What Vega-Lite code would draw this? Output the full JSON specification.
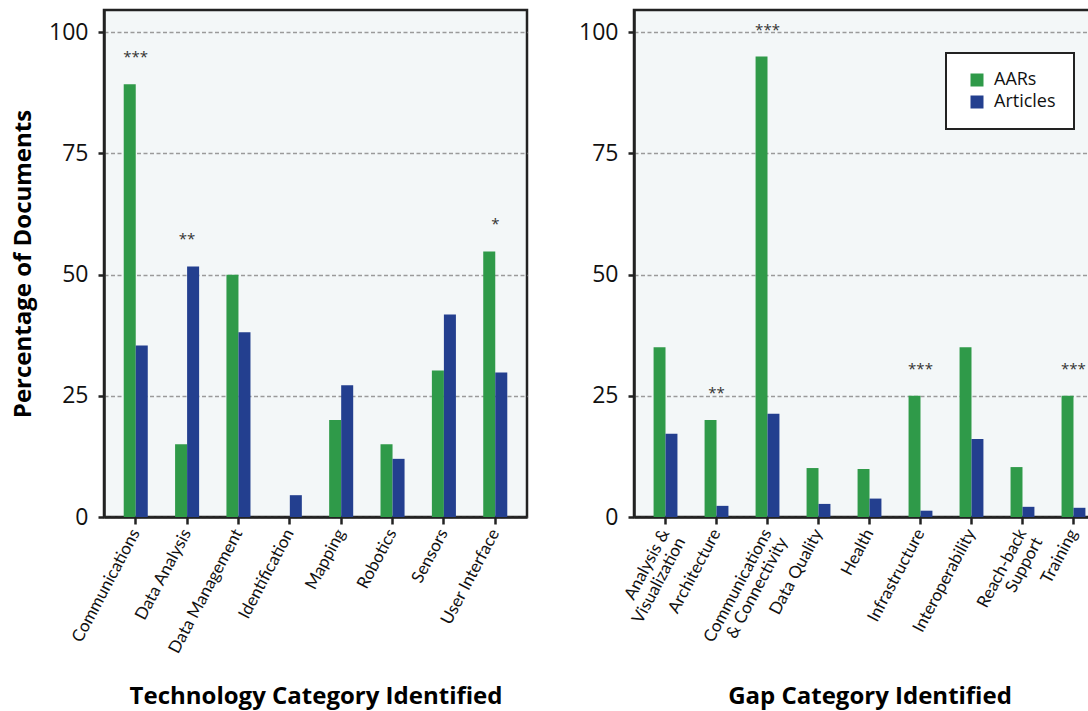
{
  "$schema": "https://vega.github.io/schema/vega-lite/v6.json",
  "padding": {"left": 10, "top": 8, "right": 0, "bottom": 0},
  "background": "white",
  "datasets": {
    "tech": [
      {"category": "Communications", "source": "AARs", "value": 89.3, "sig": "***"},
      {"category": "Communications", "source": "Articles", "value": 35.4, "sig": "***"},
      {"category": "Data Analysis", "source": "AARs", "value": 15, "sig": "**"},
      {"category": "Data Analysis", "source": "Articles", "value": 51.7, "sig": "**"},
      {"category": "Data Management", "source": "AARs", "value": 50, "sig": ""},
      {"category": "Data Management", "source": "Articles", "value": 38.1, "sig": ""},
      {"category": "Identification", "source": "AARs", "value": 0, "sig": ""},
      {"category": "Identification", "source": "Articles", "value": 4.5, "sig": ""},
      {"category": "Mapping", "source": "AARs", "value": 20, "sig": ""},
      {"category": "Mapping", "source": "Articles", "value": 27.2, "sig": ""},
      {"category": "Robotics", "source": "AARs", "value": 15, "sig": ""},
      {"category": "Robotics", "source": "Articles", "value": 12, "sig": ""},
      {"category": "Sensors", "source": "AARs", "value": 30.2, "sig": ""},
      {"category": "Sensors", "source": "Articles", "value": 41.8, "sig": ""},
      {"category": "User Interface", "source": "AARs", "value": 54.8, "sig": "*"},
      {"category": "User Interface", "source": "Articles", "value": 29.8, "sig": "*"}
    ],
    "gap": [
      {"category": "Analysis &|Visualization", "source": "AARs", "value": 35, "sig": ""},
      {"category": "Analysis &|Visualization", "source": "Articles", "value": 17.2, "sig": ""},
      {"category": "Architecture", "source": "AARs", "value": 20, "sig": "**"},
      {"category": "Architecture", "source": "Articles", "value": 2.3, "sig": "**"},
      {"category": "Communications|& Connectivity", "source": "AARs", "value": 95, "sig": "***"},
      {"category": "Communications|& Connectivity", "source": "Articles", "value": 21.3, "sig": "***"},
      {"category": "Data Quality", "source": "AARs", "value": 10.1, "sig": ""},
      {"category": "Data Quality", "source": "Articles", "value": 2.7, "sig": ""},
      {"category": "Health", "source": "AARs", "value": 9.9, "sig": ""},
      {"category": "Health", "source": "Articles", "value": 3.8, "sig": ""},
      {"category": "Infrastructure", "source": "AARs", "value": 25, "sig": "***"},
      {"category": "Infrastructure", "source": "Articles", "value": 1.3, "sig": "***"},
      {"category": "Interoperability", "source": "AARs", "value": 35, "sig": ""},
      {"category": "Interoperability", "source": "Articles", "value": 16.1, "sig": ""},
      {"category": "Reach-back|Support", "source": "AARs", "value": 10.3, "sig": ""},
      {"category": "Reach-back|Support", "source": "Articles", "value": 2.1, "sig": ""},
      {"category": "Training", "source": "AARs", "value": 25, "sig": "***"},
      {"category": "Training", "source": "Articles", "value": 1.9, "sig": "***"}
    ]
  },
  "spacing": 48,
  "hconcat": [
    {
      "width": 423,
      "height": 507,
      "data": {"name": "tech"},
      "layer": [
        {
          "mark": {"type": "bar"},
          "encoding": {
            "x": {
              "field": "category",
              "type": "nominal",
              "sort": null,
              "scale": {
                "domain": ["Communications", "Data Analysis", "Data Management", "Identification", "Mapping", "Robotics", "Sensors", "User Interface"],
                "paddingInner": 0.532,
                "paddingOuter": 0.384
              },
              "axis": {"title": "Technology Category Identified"}
            },
            "xOffset": {
              "field": "source",
              "type": "nominal",
              "sort": ["AARs", "Articles"],
              "scale": {"paddingInner": 0, "paddingOuter": 0}
            },
            "y": {
              "field": "value",
              "type": "quantitative",
              "scale": {"domain": [0, 104.6], "nice": false},
              "axis": {"title": "Percentage of Documents", "values": [0, 25, 50, 75, 100], "titlePadding": 13}
            },
            "color": {
              "field": "source",
              "type": "nominal",
              "scale": {"domain": ["AARs", "Articles"], "range": ["#2f9a49", "#233f8f"]},
              "legend": null
            }
          }
        },
        {
          "transform": [{"filter": "datum.sig != ''"}],
          "mark": {"type": "text", "dy": -22, "baseline": "alphabetic", "fontSize": 15, "font": "Open Sans", "color": "#333"},
          "encoding": {
            "x": {"field": "category", "type": "nominal", "sort": null},
            "y": {"aggregate": "max", "field": "value", "type": "quantitative"},
            "text": {"field": "sig"}
          }
        }
      ]
    },
    {
      "width": 471,
      "height": 507,
      "data": {"name": "gap"},
      "layer": [
        {
          "mark": {"type": "bar"},
          "encoding": {
            "x": {
              "field": "category",
              "type": "nominal",
              "sort": null,
              "scale": {
                "domain": ["Analysis &|Visualization", "Architecture", "Communications|& Connectivity", "Data Quality", "Health", "Infrastructure", "Interoperability", "Reach-back|Support", "Training"],
                "paddingInner": 0.532,
                "paddingOuter": 0.384
              },
              "axis": {"title": "Gap Category Identified", "labelExpr": "split(datum.label, '|')"}
            },
            "xOffset": {
              "field": "source",
              "type": "nominal",
              "sort": ["AARs", "Articles"],
              "scale": {"paddingInner": 0, "paddingOuter": 0}
            },
            "y": {
              "field": "value",
              "type": "quantitative",
              "scale": {"domain": [0, 104.6], "nice": false},
              "axis": {"title": null, "values": [0, 25, 50, 75, 100]}
            },
            "color": {
              "field": "source",
              "type": "nominal",
              "scale": {"domain": ["AARs", "Articles"], "range": ["#2f9a49", "#233f8f"]},
              "legend": {
                "title": null,
                "orient": "none",
                "legendX": 312,
                "legendY": 43,
                "fillColor": "white",
                "strokeColor": "#222",
                "padding": 18,
                "symbolOffset": 4,
                "symbolType": "square",
                "symbolSize": 169,
                "symbolStrokeWidth": 0,
                "labelFont": "Open Sans",
                "labelFontSize": 18,
                "labelColor": "#111",
                "labelOffset": 8,
                "rowPadding": 4,
                "encode": {"legend": {"update": {"strokeWidth": {"value": 2}}}}
              }
            }
          }
        },
        {
          "transform": [{"filter": "datum.sig != ''"}],
          "mark": {"type": "text", "dy": -22, "baseline": "alphabetic", "fontSize": 15, "font": "Open Sans", "color": "#333"},
          "encoding": {
            "x": {"field": "category", "type": "nominal", "sort": null},
            "y": {"aggregate": "max", "field": "value", "type": "quantitative"},
            "text": {"field": "sig"}
          }
        }
      ]
    }
  ],
  "resolve": {
    "scale": {"x": "independent", "xOffset": "independent", "color": "independent"},
    "legend": {"color": "independent"}
  },
  "config": {
    "view": {"stroke": "#222", "strokeWidth": 2.5, "fill": "#f3f7f8"},
    "axis": {
      "domainColor": "#222",
      "domainWidth": 2.5,
      "tickColor": "#222",
      "tickWidth": 2.5,
      "labelColor": "#111",
      "titleColor": "#000",
      "titleFont": "Open Sans",
      "titleFontWeight": "bold",
      "titleFontSize": 24
    },
    "axisY": {
      "grid": true,
      "gridColor": "#9a9a9a",
      "gridDash": [4, 2.5],
      "gridWidth": 1.5,
      "tickSize": 6,
      "labelPadding": 10,
      "labelFont": "Open Sans",
      "labelFontSize": 23
    },
    "axisX": {
      "grid": false,
      "tickSize": 7,
      "labelPadding": 6,
      "labelFont": "Lato",
      "labelFontSize": 17,
      "labelAngle": -62,
      "labelAlign": "right",
      "labelBaseline": "middle",
      "labelLineHeight": 18,
      "labelLimit": 300,
      "titleY": 186.5,
      "titleBaseline": "alphabetic"
    }
  }
}
